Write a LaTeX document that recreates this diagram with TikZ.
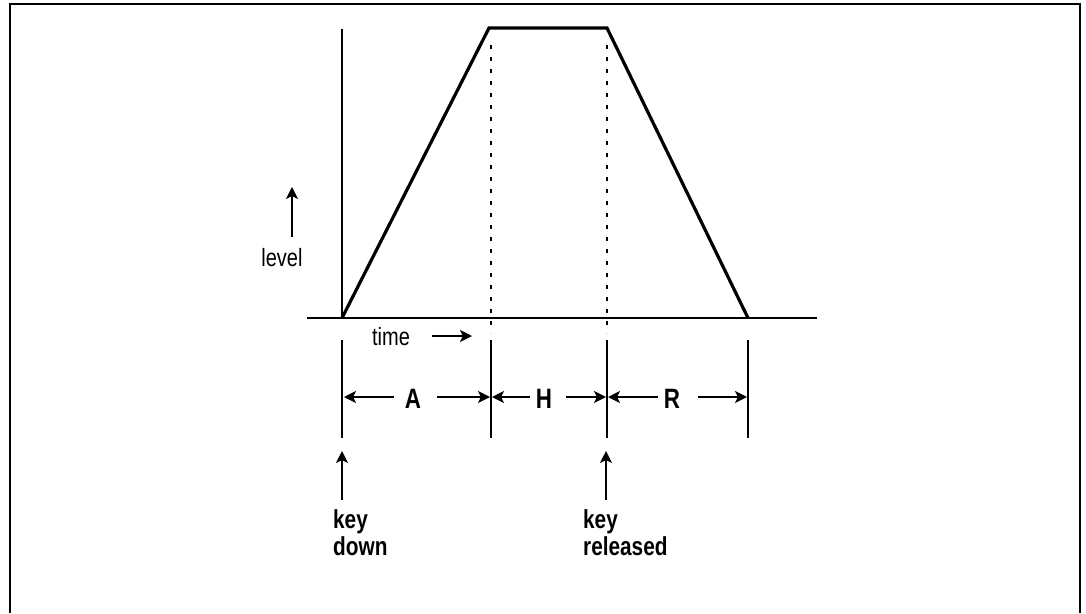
\documentclass[tikz,border=0pt]{standalone}
\usepackage{fontspec}
\setmainfont{Liberation Sans}
\usetikzlibrary{arrows.meta}
\begin{document}
\begin{tikzpicture}[x=1pt,y=-1pt,
  axis/.style={line width=1.5pt},
  env/.style={line width=3.2pt, line join=miter},
  dotline/.style={line width=1.6pt, dash pattern=on 4pt off 8pt},
  tick/.style={line width=1.5pt},
  dimarrow/.style={line width=1.5pt, -{Stealth[length=12pt,width=12pt,inset=3pt]}},
  lbl/.style={font=\bfseries\fontsize{26}{26}\selectfont, inner sep=0pt, xscale=0.8},
  dlbl/.style={font=\bfseries\fontsize{28}{28}\selectfont, inner sep=0pt, xscale=0.8},
  thin/.style={font=\fontsize{25}{25}\selectfont, inner sep=0pt, xscale=0.8}]
\useasboundingbox (0,0) rectangle (1086,613);
% frame
\draw[line width=2pt] (10,613) -- (10,4) -- (1080,4) -- (1080,613);
% axes
\coordinate (o) at (342,318);
\coordinate (ytop) at (342,29);
\coordinate (xl) at (307,318);
\coordinate (xr) at (817,318);
\draw[axis] (ytop) -- (o);
\draw[axis] (xl) -- (xr);
% envelope
\coordinate (p1) at (489,28);
\coordinate (p2) at (607,28);
\coordinate (p3) at (748,318);
\draw[env] (o) -- (p1) -- (p2) -- (p3);
% dotted guides
\coordinate (d1a) at (491,45); \coordinate (d1) at (491,333);
\coordinate (d2a) at (607,45); \coordinate (d2) at (607,333);
\draw[dotline] (d1a) -- (d1);
\draw[dotline] (d2a) -- (d2);
% tick bars
\foreach \n/\x in {t0/342,t1/491,t2/607,t3/748}{
  \coordinate (\n a) at (\x,340);
  \coordinate (\n b) at (\x,438);
  \draw[tick] (\n a) -- (\n b);
}
% labels in dimension row
\node[dlbl] (A) at (413,399) {A};
\node[dlbl] (H) at (544,399) {H};
\node[dlbl] (R) at (672,399) {R};
\coordinate (a1) at (394,397); \coordinate (a1t) at (344,397);
\coordinate (a2) at (437,397); \coordinate (a2t) at (490,397);
\coordinate (h1) at (530,397); \coordinate (h1t) at (492,397);
\coordinate (h2) at (566,397); \coordinate (h2t) at (606,397);
\coordinate (r1) at (658,397); \coordinate (r1t) at (608,397);
\coordinate (r2) at (698,397); \coordinate (r2t) at (747,397);
\draw[dimarrow] (a1) -- (a1t);
\draw[dimarrow] (a2) -- (a2t);
\draw[dimarrow] (h1) -- (h1t);
\draw[dimarrow] (h2) -- (h2t);
\draw[dimarrow] (r1) -- (r1t);
\draw[dimarrow] (r2) -- (r2t);
% level
\node[thin, anchor=base] (level) at (282,266) {level};
\coordinate (lv1) at (292,237); \coordinate (lv2) at (292,187);
\draw[dimarrow] (lv1) -- (lv2);
% time
\node[thin, anchor=base] (time) at (391,345) {time};
\coordinate (tm1) at (432,336); \coordinate (tm2) at (472,336);
\draw[dimarrow] (tm1) -- (tm2);
% key down
\coordinate (kd1) at (342,500); \coordinate (kd2) at (342,451);
\draw[dimarrow] (kd1) -- (kd2);
\node[lbl, anchor=base west] (kd) at (333,528) {key};
\node[lbl, anchor=base west] (kd2t) at (333,555) {down};
% key released
\coordinate (kr1) at (606,500); \coordinate (kr2) at (606,451);
\draw[dimarrow] (kr1) -- (kr2);
\node[lbl, anchor=base west] (kr) at (583,528) {key};
\node[lbl, anchor=base west] (kr2t) at (583,555) {released};
\end{tikzpicture}
\end{document}
